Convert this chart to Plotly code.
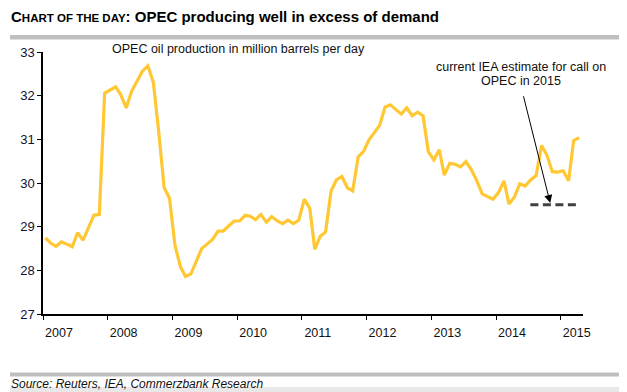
import plotly.graph_objects as go

# ---- data -------------------------------------------------------------
START_YEAR = 2007
production = [
    28.74, 28.62, 28.55, 28.65, 28.60, 28.54, 28.86, 28.69, 28.98, 29.26, 29.28, 32.06,  # 2007
    32.13, 32.20, 32.02, 31.72, 32.10, 32.33, 32.56, 32.68, 32.30, 31.18, 29.89, 29.65,  # 2008
    28.57, 28.08, 27.86, 27.92, 28.19, 28.50, 28.60, 28.71, 28.90, 28.90, 29.02, 29.13,  # 2009
    29.13, 29.26, 29.24, 29.16, 29.28, 29.10, 29.23, 29.13, 29.07, 29.15, 29.07, 29.15,  # 2010
    29.63, 29.42, 28.48, 28.78, 28.88, 29.82, 30.07, 30.15, 29.89, 29.82, 30.60, 30.72,  # 2011
    30.99, 31.15, 31.32, 31.74, 31.79, 31.68, 31.58, 31.72, 31.54, 31.62, 31.54, 30.72,  # 2012
    30.53, 30.76, 30.18, 30.45, 30.43, 30.37, 30.49, 30.30, 30.05, 29.75, 29.68, 29.63,  # 2013
    29.78, 30.05, 29.52, 29.68, 29.98, 29.93, 30.07, 30.17, 30.86, 30.64, 30.26, 30.25,  # 2014
    30.28, 30.05, 30.97, 31.04,                                                          # 2015
]
months = [f"{START_YEAR + i // 12}-{i % 12 + 1:02d}-15" for i in range(len(production))]

iea_call_dates = ["2014-07-14", "2015-04-22"]
iea_call = [29.5, 29.5]

year_ticks = [f"{y}-01-01" for y in range(2007, 2016)]
year_labels = [str(y) for y in range(2007, 2016)]

# ---- layout helpers (window pixel -> paper) ----------------------------
OFF = 8                      # page body margin of the browser
WIN_W, WIN_H = 627, 392
W, H = WIN_W, WIN_H
PLOT_X0, PLOT_X1 = 43, 583   # window pixels
PLOT_Y0, PLOT_Y1 = 52, 314
PW, PH = PLOT_X1 - PLOT_X0, PLOT_Y1 - PLOT_Y0


def px(x):
    return (x - PLOT_X0) / PW


def py(y):
    return (PLOT_Y1 - y) / PH


FONT = "Liberation Sans, Arial, sans-serif"

fig = go.Figure()
fig.add_trace(go.Scatter(
    x=months, y=production, mode="lines",
    line=dict(color="#FFC732", width=3.2),
    hoverinfo="skip", showlegend=False,
))
fig.add_trace(go.Scatter(
    x=iea_call_dates, y=iea_call, mode="lines",
    line=dict(color="#404040", width=3, dash="8px,4.5px"),
    hoverinfo="skip", showlegend=False,
))

annotations = [
    dict(text="OPEC oil production in million barrels per day", xref="paper", yref="paper",
         x=px(110), y=py(48.5), xanchor="left", yanchor="middle", showarrow=False,
         font=dict(size=12.5, color="#111111", family=FONT)),
    dict(text="current IEA estimate for call on", xref="paper", yref="paper",
         x=px(520.5), y=py(67), xanchor="center", yanchor="middle", showarrow=False,
         font=dict(size=12.5, color="#111111", family=FONT)),
    dict(text="OPEC in 2015", xref="paper", yref="paper",
         x=px(521), y=py(80.7), xanchor="center", yanchor="middle", showarrow=False,
         font=dict(size=12.5, color="#111111", family=FONT)),
    # arrow
    dict(text="", x="2014-11-03", y=29.54, xref="x", yref="y",
         ax="2014-06-03", ay=32.02, axref="x", ayref="y",
         showarrow=True, arrowhead=2, arrowsize=1.6, arrowwidth=1,
         arrowcolor="#000000", standoff=0),
    dict(text="<i>Source: Reuters, IEA, Commerzbank Research</i>", xref="paper", yref="paper",
         x=px(9), y=py(383.5), xanchor="left", yanchor="middle", showarrow=False,
         font=dict(size=12, color="#111111", family=FONT)),
]

shapes = [
    dict(type="rect", xref="paper", yref="paper", x0=px(10), x1=px(650), y0=py(35), y1=py(39.5),
         fillcolor="#BFBFBF", line=dict(width=0), layer="below"),
    dict(type="rect", xref="paper", yref="paper", x0=px(10), x1=px(650), y0=py(372.5), y1=py(376.5),
         fillcolor="#BFBFBF", line=dict(width=0), layer="below"),
    dict(type="rect", xref="paper", yref="paper", x0=px(10), x1=px(650), y0=py(387), y1=py(395),
         fillcolor="#E8E8E8", line=dict(width=0), layer="below"),
]

title_text = ("<b>C<span style='font-size:11.5px'>HART OF THE DAY</span>: "
              "OPEC producing well in excess of demand</b>")

fig.update_layout(
    width=W, height=H,
    margin=dict(l=PLOT_X0 - OFF, r=W - (PLOT_X1 - OFF), t=PLOT_Y0 - OFF,
                b=H - (PLOT_Y1 - OFF), pad=0),
    paper_bgcolor="white", plot_bgcolor="white",
    font=dict(family=FONT, color="#111111"),
    title=dict(text=title_text, xref="container", yref="container",
               x=(11 - OFF) / W, xanchor="left", y=1 - (17 - OFF) / H, yanchor="middle",
               font=dict(size=15, color="#000000", family=FONT)),
    xaxis=dict(
        type="date", range=["2007-01-01", "2015-05-07"],
        tickmode="array", tickvals=year_ticks, ticktext=year_labels,
        ticks="outside", ticklen=4, tickwidth=1.3, tickcolor="#000000",
        ticklabelshift=16, ticklabelstandoff=2,
        showline=True, linecolor="#000000", linewidth=2,
        showgrid=False, zeroline=False,
        tickfont=dict(size=12.5, color="#111111", family=FONT),
    ),
    yaxis=dict(
        range=[27, 33], tickmode="linear", tick0=27, dtick=1,
        ticks="outside", ticklen=4, tickwidth=1.3, tickcolor="#000000",
        showline=True, linecolor="#000000", linewidth=1.5,
        showgrid=False, zeroline=False,
        tickfont=dict(size=13, color="#111133", family=FONT),
    ),
    annotations=annotations,
    shapes=shapes,
    showlegend=False,
)

fig.write_html("out.html", config={"displayModeBar": False})
